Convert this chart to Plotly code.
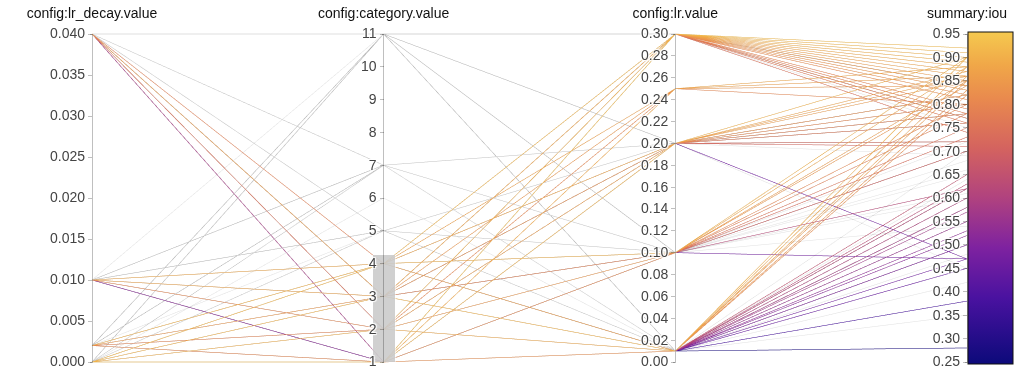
import plotly.graph_objects as go

# Runs: lr_decay, category, lr, iou
lr_decay = [0.04, 0.04, 0.04, 0.04, 0.04, 0.04, 0.04, 0.04, 0.04,
            0.01, 0.01, 0.01, 0.01, 0.01, 0.01, 0.01, 0.01,
            0.002, 0.002, 0.002, 0.002, 0.002, 0.002, 0.002, 0.002, 0.002, 0.002,
            0.0, 0.0, 0.0, 0.0, 0.0, 0.0, 0.0, 0.0, 0.0, 0.0, 0.0, 0.0, 0.0, 0.0,
            0.0, 0.0, 0.0, 0.0, 0.0, 0.0, 0.0, 0.0, 0.0, 0.0,
            0.002, 0.01, 0.04, 0.002, 0.01,
            0.0, 0.002, 0.01, 0.0, 0.0, 0.002, 0.0, 0.01, 0.0, 0.002,
            # runs outside the selected category range
            0.04, 0.04, 0.04, 0.04, 0.04, 0.04, 0.04, 0.04,
            0.01, 0.01, 0.01, 0.01,
            0.002, 0.002, 0.002, 0.002,
            0.0, 0.0, 0.0, 0.0, 0.0, 0.0, 0.0, 0.0,
            0.04, 0.01, 0.002, 0.0]
category = [3, 1, 1, 4, 2, 1, 1, 2, 3,
            4, 4, 4, 3, 1, 3, 2, 2,
            4, 3, 3, 2, 1, 4, 2, 3, 4, 2,
            4, 4, 3, 3, 2, 2, 1, 1, 1, 2, 3, 4, 1, 2,
            4, 3, 1, 2, 1, 4, 3, 2, 1, 1,
            1, 1, 2, 4, 3,
            1, 2, 2, 2, 3, 1, 4, 4, 1, 3,
            11, 11, 7, 7, 5, 5, 7, 11,
            11, 7, 5, 7,
            11, 7, 5, 11,
            7, 5, 11, 7, 5, 7, 11, 6,
            5, 5, 7, 5]
lr = [0.01, 0.01, 0.20, 0.30, 0.10, 0.01, 0.01, 0.01, 0.30,
      0.30, 0.20, 0.10, 0.10, 0.01, 0.01, 0.25, 0.20,
      0.30, 0.20, 0.01, 0.10, 0.01, 0.25, 0.30, 0.01, 0.10, 0.20,
      0.30, 0.20, 0.30, 0.20, 0.10, 0.30, 0.20, 0.30, 0.01, 0.01, 0.10, 0.01, 0.25, 0.20,
      0.10, 0.01, 0.10, 0.30, 0.01, 0.20, 0.30, 0.10, 0.20, 0.30,
      0.30, 0.01, 0.30, 0.01, 0.30,
      0.01, 0.01, 0.01, 0.01, 0.01, 0.10, 0.30, 0.30, 0.30, 0.25,
      0.20, 0.30, 0.10, 0.01, 0.10, 0.01, 0.20, 0.01,
      0.10, 0.01, 0.20, 0.10,
      0.01, 0.20, 0.10, 0.30,
      0.01, 0.01, 0.10, 0.20, 0.20, 0.10, 0.20, 0.01,
      0.20, 0.01, 0.01, 0.10]
iou = [0.28, 0.47, 0.47, 0.78, 0.62, 0.58, 0.55, 0.63, 0.85,
       0.88, 0.86, 0.85, 0.47, 0.38, 0.65, 0.80, 0.76,
       0.90, 0.82, 0.50, 0.70, 0.45, 0.86, 0.79, 0.60, 0.88, 0.72,
       0.91, 0.87, 0.84, 0.80, 0.84, 0.89, 0.90, 0.83, 0.82, 0.86, 0.78, 0.85, 0.88, 0.85,
       0.90, 0.55, 0.75, 0.81, 0.62, 0.78, 0.76, 0.73, 0.71, 0.77,
       0.77, 0.52, 0.74, 0.83, 0.87,
       0.60, 0.57, 0.53, 0.88, 0.90, 0.80, 0.86, 0.82, 0.92, 0.84,
       0.80, 0.75, 0.68, 0.60, 0.72, 0.55, 0.82, 0.50,
       0.65, 0.70, 0.80, 0.60,
       0.62, 0.72, 0.66, 0.84,
       0.58, 0.64, 0.70, 0.76, 0.69, 0.54, 0.45, 0.35,
       0.78, 0.48, 0.42, 0.61]

lr_decay_ticks = [0.0, 0.005, 0.01, 0.015, 0.02, 0.025, 0.03, 0.035, 0.04]
category_ticks = list(range(1, 12))
lr_ticks = [round(0.02 * i, 2) for i in range(16)]
iou_ticks = [round(0.25 + 0.05 * i, 2) for i in range(15)]
category_selected = [1, 4.35]

colorscale = [[0.0, '#0c0a7a'], [0.2, '#4a12a0'], [0.35, '#7e22a0'],
              [0.5, '#b0427f'], [0.65, '#d4635f'], [0.8, '#e98a4e'],
              [0.9, '#f0a748'], [1.0, '#f5c94f']]

L, R, T, B = 92, 63, 32, 4
W, H = 1030, 368
pw = W - L - R

fig = go.Figure(go.Parcoords(
    line=dict(color=iou, colorscale=colorscale, cmin=0.25, cmax=0.95,
              showscale=True,
              colorbar=dict(x=(968 - L) / pw, xanchor='left', xpad=0,
                            y=0.5, yanchor='middle', ypad=0,
                            len=1, lenmode='fraction',
                            thickness=45, thicknessmode='pixels',
                            outlinecolor='#111', outlinewidth=1,
                            showticklabels=False, ticks='')),
    unselected=dict(line=dict(color='#cccccc', opacity=0.6)),
    dimensions=[
        dict(label='config:lr_decay.value', values=lr_decay, range=[0, 0.04],
             tickvals=lr_decay_ticks, ticktext=[f'{v:.3f}' for v in lr_decay_ticks]),
        dict(label='config:category.value', values=category, range=[1, 11],
             tickvals=category_ticks, ticktext=[str(v) for v in category_ticks],
             constraintrange=category_selected),
        dict(label='config:lr.value', values=lr, range=[0, 0.3],
             tickvals=lr_ticks, ticktext=[f'{v:.2f}' for v in lr_ticks]),
        dict(label='summary:iou', values=iou, range=[0.25, 0.95],
             tickvals=iou_ticks, ticktext=[f'{v:.2f}' for v in iou_ticks]),
    ],
    labelfont=dict(family='Liberation Sans, Arial', size=14, color='#111'),
    tickfont=dict(family='Liberation Sans, Arial', size=14, color='#444'),
    rangefont=dict(size=1, color='rgba(0,0,0,0)'),
))

fig.update_layout(width=W, height=H,
                  margin=dict(l=L, r=R, t=T, b=B, autoexpand=False),
                  paper_bgcolor='white', plot_bgcolor='white')

# Page margin reset; restyle the library's own brush (grey box behind the
# axis line) and move the axis titles closer to the axes
post = """
document.body.style.margin = '0';
var gd = document.getElementById('{plot_id}');
gd.querySelectorAll('.highlight').forEach(function(e){
  e.setAttribute('stroke', '#c4c4c4'); e.setAttribute('stroke-width', '22');
  e.setAttribute('opacity', '0.8');
});
gd.querySelectorAll('.highlight-shadow').forEach(function(e){
  e.setAttribute('stroke-width', '24'); e.setAttribute('opacity', '0.5');
});
gd.querySelectorAll('.axis-brush').forEach(function(b){
  b.parentNode.insertBefore(b, b.parentNode.firstChild);
});
gd.querySelectorAll('.axis-title').forEach(function(e){
  e.setAttribute('transform', 'translate(0,-14)');
});
"""

fig.write_html("out.html", post_script=post, config={'displayModeBar': False})
